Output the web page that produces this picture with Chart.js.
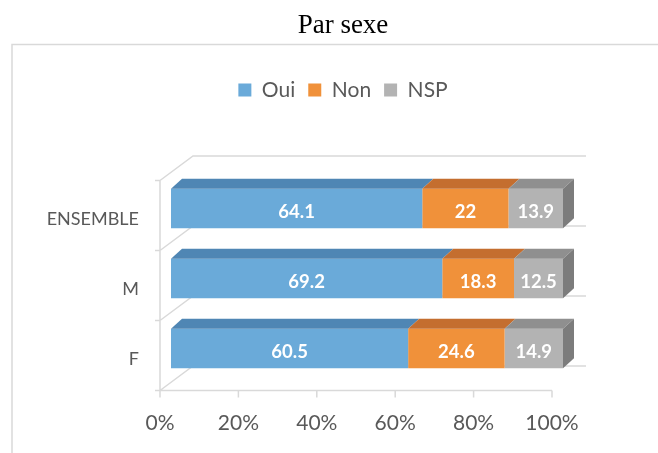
<!DOCTYPE html>
<html>
<head>
<meta charset="utf-8">
<script src="https://cdn.jsdelivr.net/npm/chart.js@4.4.1/dist/chart.umd.min.js"></script>
<style>
  html, body { margin: 0; padding: 0; background: #ffffff; }
  #c { display: block; }
</style>
</head>
<body>
<canvas id="c" width="658" height="453"></canvas>
<script>
// ---- data ----
const chartTitle = 'Par sexe';
const categories = ['ENSEMBLE', 'M', 'F'];
const seriesNames = ['Oui', 'Non', 'NSP'];
const ouiValues = [64.1, 69.2, 60.5];
const nonValues = [22, 18.3, 24.6];
const nspValues = [13.9, 12.5, 14.9];
const tickValues = [0, 20, 40, 60, 80, 100];
const tickLabels = ['0%', '20%', '40%', '60%', '80%', '100%'];

// ---- styles ----
const frontColors = ['#6aaad9', '#f0913a', '#b3b3b3'];
const topColors = ['#4f86b4', '#c46e2f', '#8f8f8f'];
const sideColors = ['#4a7ca8', '#b3632a', '#7c7c7c'];
const wallColor = '#d9d9d9';
const textGray = '#595959';
const FONT = 'Lato, "Open Sans", sans-serif';

const FRONT = { dx: -11, dy: 7 };     // front floor edge relative to bar front
const BACK = { dx: 22, dy: -17.5 };   // back wall relative to bar front
const DEPTH = { dx: 11, dy: -10 };    // bar depth

// extra layout boxes (spacing)
const spacerPlugin = {
  id: 'spacers',
  beforeInit(chart) {
    const mk = (position, size, weight) => ({
      position: position, weight: weight, fullSize: false, options: {},
      left: 0, top: 0, right: 0, bottom: 0, width: 0, height: 0,
      isHorizontal() { return position === 'top' || position === 'bottom'; },
      update(maxWidth, maxHeight) {
        if (this.isHorizontal()) { this.width = maxWidth; this.height = size; }
        else { this.width = size; this.height = maxHeight; }
      },
      draw() {}
    });
    Chart.layouts.addBox(chart, mk('top', 63, 100));
    Chart.layouts.addBox(chart, mk('right', 95, 100));
  }
};

const threeDPlugin = {
  id: 'threeD',
  beforeDraw(chart) {
    const ctx = chart.ctx;
    ctx.save();
    ctx.strokeStyle = wallColor;
    ctx.lineWidth = 1.5;
    ctx.beginPath();
    ctx.moveTo(12, chart.height + 10);
    ctx.lineTo(12, 44.5);
    ctx.lineTo(chart.width + 10, 44.5);
    ctx.stroke();
    ctx.restore();
  },
  beforeDatasetsDraw(chart) {
    const ctx = chart.ctx;
    const xs = chart.scales.x, ys = chart.scales.y;
    const x0 = xs.getPixelForValue(tickValues[0]);
    const x1 = xs.getPixelForValue(tickValues[tickValues.length - 1]);
    const n = categories.length;
    const step = (ys.bottom - ys.top) / n;
    ctx.save();
    ctx.strokeStyle = wallColor;
    ctx.lineWidth = 1.5;
    ctx.beginPath();
    for (let k = 0; k <= n; k++) {
      const yb = ys.top + k * step;
      // floor diagonal
      ctx.moveTo(x0 + FRONT.dx, yb + FRONT.dy);
      ctx.lineTo(x0 + BACK.dx, yb + BACK.dy);
      // back wall gridline
      ctx.lineTo(x1 + BACK.dx + 1, yb + BACK.dy);
      // left tick
      ctx.moveTo(x0 + FRONT.dx - 5, yb + FRONT.dy);
      ctx.lineTo(x0 + FRONT.dx, yb + FRONT.dy);
    }
    // front vertical edge
    ctx.moveTo(x0 + FRONT.dx, ys.top + FRONT.dy);
    ctx.lineTo(x0 + FRONT.dx, ys.bottom + FRONT.dy);
    // bottom axis
    const yAxis = ys.bottom + FRONT.dy;
    ctx.moveTo(x0 + FRONT.dx, yAxis);
    ctx.lineTo(x1 + FRONT.dx, yAxis);
    tickValues.forEach(v => {
      const px = xs.getPixelForValue(v) + FRONT.dx;
      ctx.moveTo(px, yAxis);
      ctx.lineTo(px, yAxis + 7);
    });
    ctx.stroke();
    ctx.restore();
  },
  afterDatasetsDraw(chart) {
    const ctx = chart.ctx;
    ctx.save();
    const nds = chart.data.datasets.length;
    chart.data.datasets.forEach((ds, d) => {
      const meta = chart.getDatasetMeta(d);
      meta.data.forEach((el, i) => {
        const p = el.getProps(['x', 'y', 'base', 'height'], true);
        const a = Math.min(p.base, p.x), b = Math.max(p.base, p.x);
        const yt = p.y - p.height / 2, ybt = p.y + p.height / 2;
        // top face
        ctx.fillStyle = topColors[d];
        ctx.beginPath();
        ctx.moveTo(a, yt);
        ctx.lineTo(b, yt);
        ctx.lineTo(b + DEPTH.dx, yt + DEPTH.dy);
        ctx.lineTo(a + DEPTH.dx, yt + DEPTH.dy);
        ctx.closePath();
        ctx.fill();
        if (d === nds - 1) {
          ctx.fillStyle = sideColors[d];
          ctx.beginPath();
          ctx.moveTo(b, yt);
          ctx.lineTo(b + DEPTH.dx, yt + DEPTH.dy);
          ctx.lineTo(b + DEPTH.dx, ybt + DEPTH.dy);
          ctx.lineTo(b, ybt);
          ctx.closePath();
          ctx.fill();
        }
      });
    });
    // data labels
    ctx.fillStyle = '#ffffff';
    ctx.font = 'bold 18.5px ' + FONT;
    ctx.textAlign = 'center';
    ctx.textBaseline = 'middle';
    chart.data.datasets.forEach((ds, d) => {
      const meta = chart.getDatasetMeta(d);
      meta.data.forEach((el, i) => {
        const p = el.getProps(['x', 'y', 'base'], true);
        ctx.fillText(String(ds.data[i]), (p.x + p.base) / 2, p.y + 3.5);
      });
    });
    ctx.restore();
  }
};

const seriesValues = [ouiValues, nonValues, nspValues];

new Chart(document.getElementById('c'), {
  type: 'bar',
  data: {
    labels: categories,
    datasets: seriesNames.map((name, d) => ({
      label: name,
      data: seriesValues[d],
      backgroundColor: frontColors[d],
      borderWidth: 0,
      barPercentage: 0.565,
      categoryPercentage: 1.0
    }))
  },
  options: {
    indexAxis: 'y',
    responsive: false,
    animation: false,
    devicePixelRatio: 1,
    layout: { padding: { left: 28, right: 0, top: 0, bottom: 0 } },
    plugins: {
      title: {
        display: true,
        text: chartTitle,
        color: '#000000',
        font: { family: '"Liberation Serif", "Times New Roman", serif', size: 27, weight: 'normal' },
        padding: { top: 10, bottom: 24.1 }
      },
      legend: {
        display: true,
        position: 'top',
        align: 'center',
        labels: {
          boxWidth: 13,
          boxHeight: 13,
          padding: 13,
          color: textGray,
          font: { family: FONT, size: 21 }
        }
      },
      tooltip: { enabled: false }
    },
    scales: {
      x: {
        stacked: true,
        min: 0,
        max: 100,
        grid: { display: false, drawTicks: false },
        border: { display: false },
        afterFit(s) { s.height = 69.5; },
        afterBuildTicks(s) { s.ticks = tickValues.map(v => ({ value: v })); },
        ticks: {
          autoSkip: false,
          maxRotation: 0,
          padding: 27.6,
          labelOffset: -11,
          color: textGray,
          font: { family: FONT, size: 21 },
          callback: (v, idx) => tickLabels[idx]
        }
      },
      y: {
        stacked: true,
        grid: { display: false, drawTicks: false },
        border: { display: false },
        afterFit(s) { s.width = 143; },
        ticks: {
          padding: 32,
          labelOffset: 11,
          color: textGray,
          font: { family: FONT, size: 18 }
        }
      }
    }
  },
  plugins: [spacerPlugin, threeDPlugin]
});
</script>
</body>
</html>
